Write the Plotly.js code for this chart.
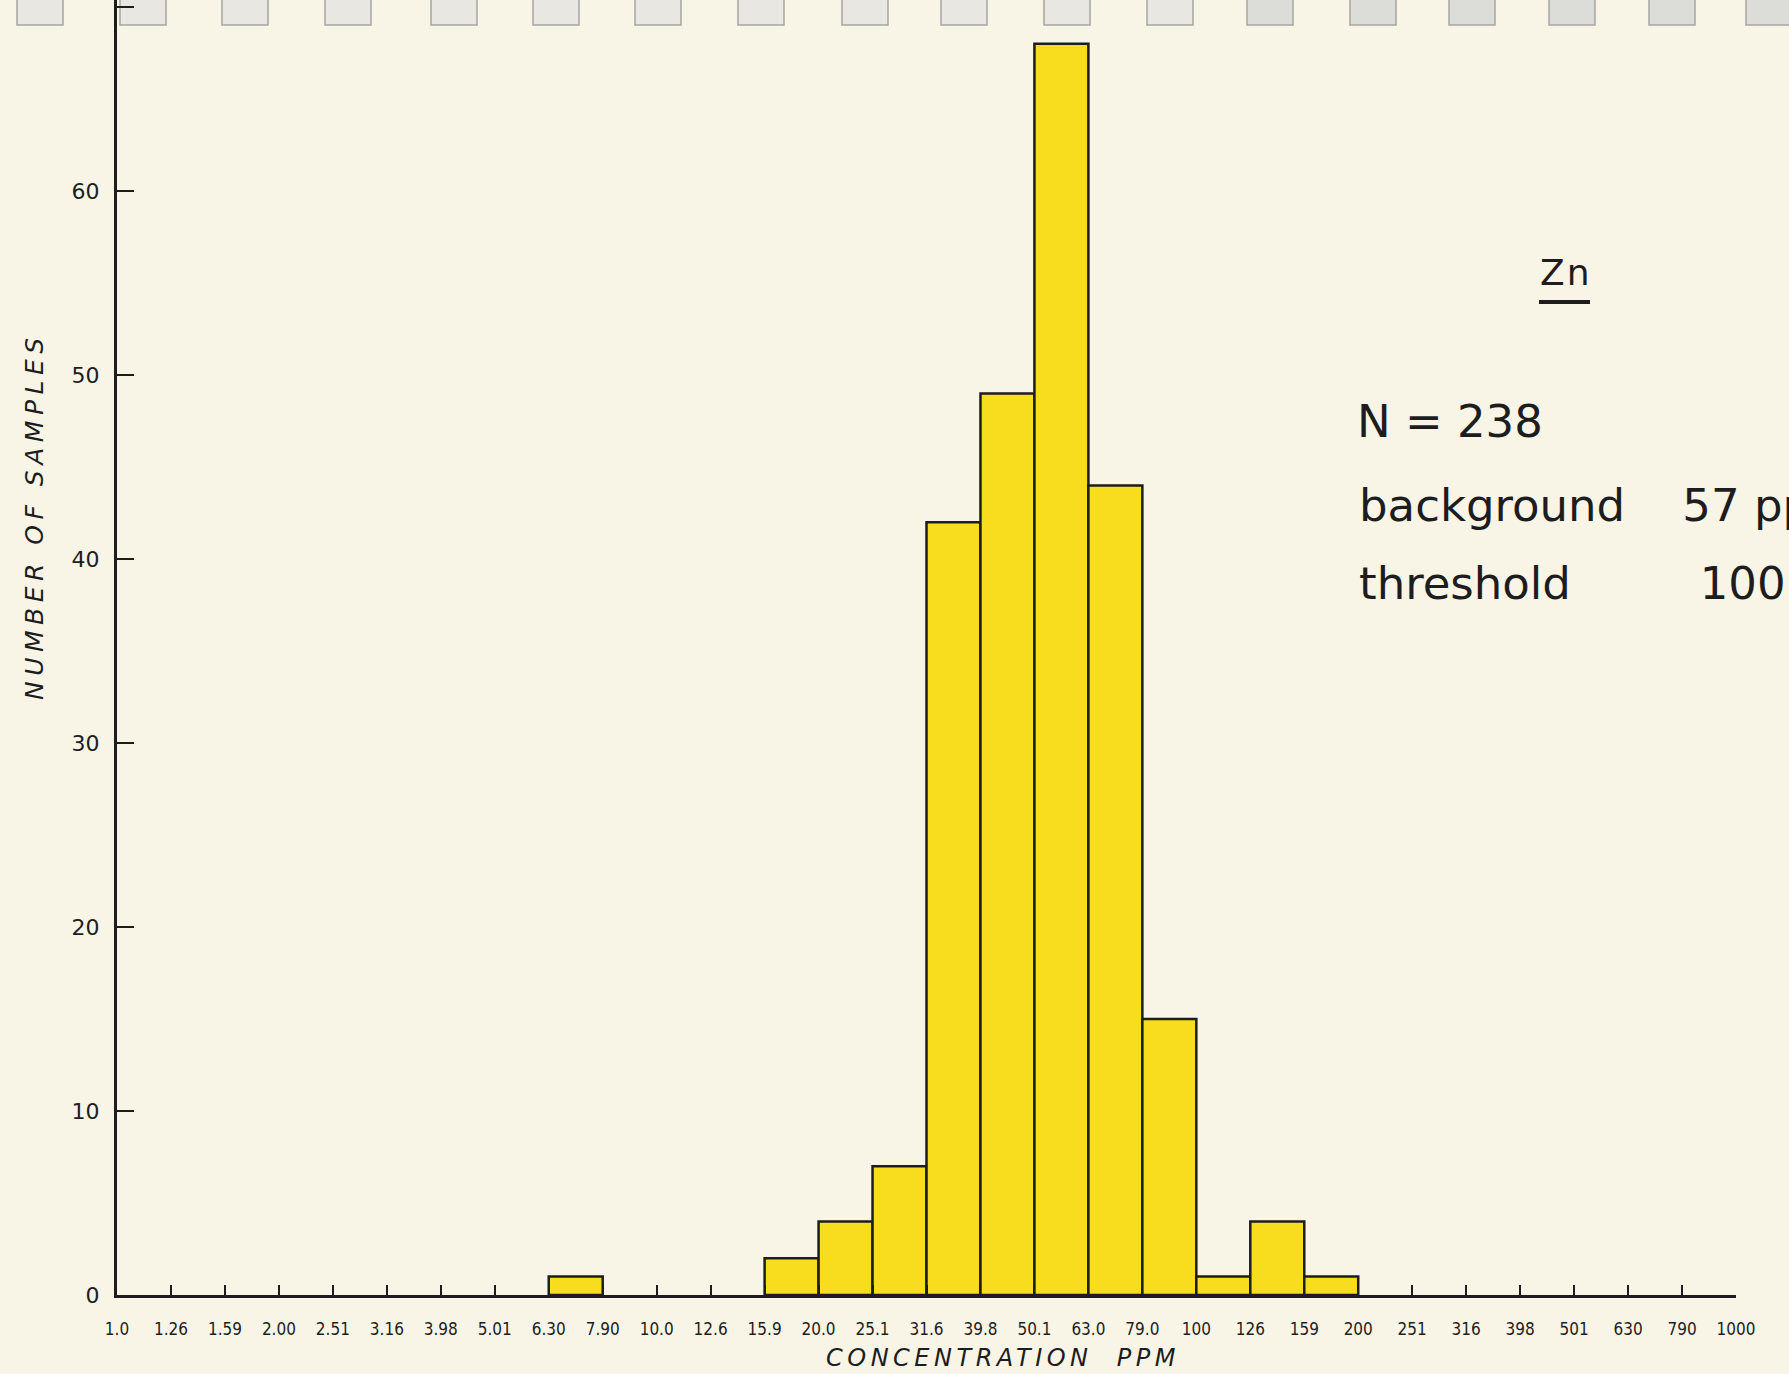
<!DOCTYPE html>
<html>
<head>
<meta charset="utf-8">
<script src="https://cdn.plot.ly/plotly-3.0.1.min.js"></script>
<style>
html,body{margin:0;padding:0;background:#f9f5e7;}
#chart{width:1789px;height:1374px;}
</style>
</head>
<body>
<div id="chart"></div>
<script>
// Bin boundaries (ppm) as lettered on the x axis
const binEdgeLabels = ["1.0","1.26","1.59","2.00","2.51","3.16","3.98","5.01","6.30","7.90",
  "10.0","12.6","15.9","20.0","25.1","31.6","39.8","50.1","63.0","79.0",
  "100","126","159","200","251","316","398","501","630","790","1000"];
// Number of samples in each bin (bin i lies between edge i and edge i+1)
const binCounts = [0,0,0,0,0,0,0,0,1,0,
  0,0,2,4,7,42,49,68,44,15,
  1,4,1,0,0,0,0,0,0,0];
const yTickValues = [0,10,20,30,40,50,60,70];
const yTickLabels = ["0","10","20","30","40","50","60","70"];
const elementLabel = "Zn";
const sampleLabel = "N = 238";
const backgroundLabel = "background\u00a0\u00a0\u00a0\u00a057 ppm";
const thresholdLabel = "threshold\u00a0\u00a0\u00a0\u00a0\u00a0\u00a0\u00a0\u00a0\u00a0100 ppm";
const xTitle = "CONCENTRATION\u00a0\u00a0PPM";
const yTitle = "NUMBER OF SAMPLES";

const ink = "#1d1d1f";
const paper = "#f9f5e6";

const barX = [], barY = [];
binCounts.forEach((c, i) => { if (c > 0) { barX.push(i + 0.5); barY.push(c); } });

const trace = {
  type: "bar",
  x: barX,
  y: barY,
  width: barX.map(() => 1),
  marker: { color: "#f8dc1e", line: { color: ink, width: 2.5 } },
  hoverinfo: "skip"
};

// binder tabs along the top edge of the scanned sheet
const tabLefts = [17,120,222,325,431,533,635,738,842,941,1044,1147,1247,1350,1449,1549,1649,1746];
const plotL = 117, plotW = 1619, plotB = 1295;
const px = v => (v - plotL) / plotW;
const py = v => (plotB - v) / plotB;
const shapes = tabLefts.map((l, k) => ({
  type: "rect", xref: "paper", yref: "paper",
  x0: px(l), x1: px(l + 46), y0: py(25), y1: py(-2),
  fillcolor: k > 11 ? "#dcdcd8" : "#e8e7e2", line: { color: "#a5a5a1", width: 1.5 }, layer: "below"
}));
shapes.push({
  type: "line", xref: "paper", yref: "paper",
  x0: px(1539), x1: px(1590), y0: py(302), y1: py(302),
  line: { color: ink, width: 4 }
});

const layout = {
  width: 1789, height: 1374, autosize: false,
  margin: { l: 117, r: 53, t: 0, b: 79, pad: 0 },
  paper_bgcolor: paper, plot_bgcolor: paper,
  showlegend: false,
  bargap: 0,
  xaxis: {
    range: [0, 30],
    tickmode: "array",
    tickvals: binEdgeLabels.map((_, i) => i),
    ticktext: binEdgeLabels,
    ticks: "inside", ticklen: 10, tickwidth: 2, tickcolor: ink,
    showline: true, linewidth: 2.5, linecolor: ink,
    showgrid: false, zeroline: false,
    tickangle: 0,
    ticklabelstandoff: 17,
    tickfont: { family: "DejaVu Sans Condensed, DejaVu Sans, sans-serif", size: 17, color: ink }
  },
  yaxis: {
    range: [0, 70.38],
    tickmode: "array",
    tickvals: yTickValues,
    ticktext: yTickLabels,
    ticks: "inside", ticklen: 17, tickwidth: 2, tickcolor: ink,
    showline: true, linewidth: 3, linecolor: ink,
    showgrid: false, zeroline: false,
    ticklabelstandoff: 10,
    tickfont: { family: "DejaVu Sans, sans-serif", size: 22, color: ink }
  },
  shapes: shapes,
  annotations: [
    { xref: "paper", yref: "paper", x: px(1003), y: py(1358), xanchor: "center", yanchor: "middle",
      showarrow: false, text: '<span style="letter-spacing:4.5px">' + xTitle + '</span>',
      font: { family: "DejaVu Sans, sans-serif", size: 24, style: "italic", color: ink } },
    { xref: "paper", yref: "paper", x: px(34), y: py(516), xanchor: "center", yanchor: "middle",
      showarrow: false, textangle: -90, text: '<span style="letter-spacing:5.5px">' + yTitle + '</span>',
      font: { family: "DejaVu Sans, sans-serif", size: 25, style: "italic", color: ink } },
    { xref: "paper", yref: "paper", x: px(1565), y: py(273), xanchor: "center", yanchor: "middle",
      showarrow: false, text: '<span style="letter-spacing:2px">' + elementLabel + '</span>',
      font: { family: "DejaVu Sans, sans-serif", size: 36, color: ink } },
    { xref: "paper", yref: "paper", x: px(1355), y: py(421), xanchor: "left", yanchor: "middle",
      showarrow: false, text: sampleLabel,
      font: { family: "DejaVu Sans, sans-serif", size: 45, color: ink } },
    { xref: "paper", yref: "paper", x: px(1357), y: py(506), xanchor: "left", yanchor: "middle",
      showarrow: false, text: backgroundLabel,
      font: { family: "DejaVu Sans, sans-serif", size: 45, color: ink } },
    { xref: "paper", yref: "paper", x: px(1357), y: py(583), xanchor: "left", yanchor: "middle",
      showarrow: false, text: thresholdLabel,
      font: { family: "DejaVu Sans, sans-serif", size: 45, color: ink } }
  ]
};

Plotly.newPlot("chart", [trace], layout, { staticPlot: true, displayModeBar: false });
</script>
</body>
</html>
